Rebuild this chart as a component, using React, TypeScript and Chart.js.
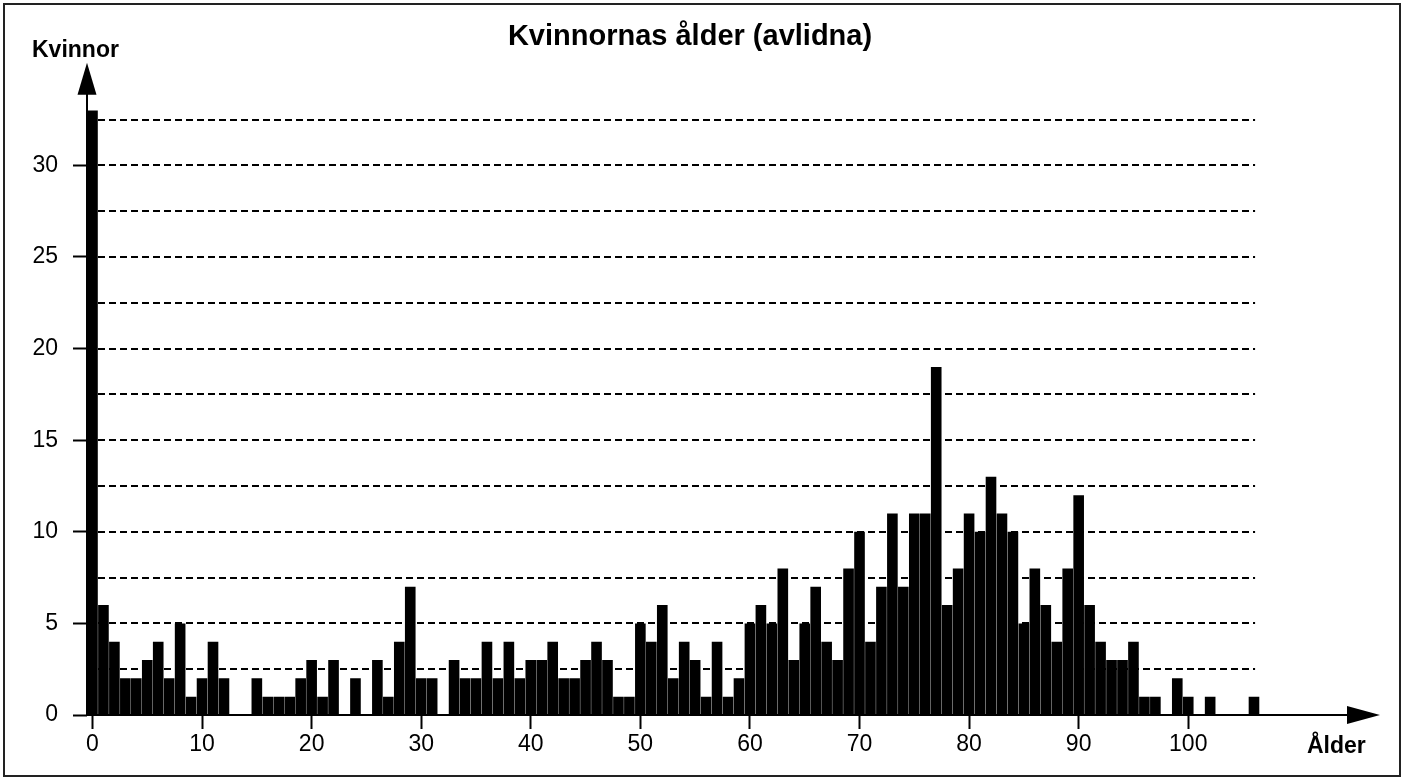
import React, { useEffect, useRef } from "react";
import { Chart, registerables } from "chart.js";

Chart.register(...registerables);

const TITLE = "Kvinnornas ålder (avlidna)";
const Y_AXIS_NAME = "Kvinnor";
const X_AXIS_NAME = "Ålder";

const AGES = [
  0, 1, 2, 3, 4, 5, 6, 7, 8, 9, 10, 11, 12, 13, 14, 15, 16, 17, 18, 19,
  20, 21, 22, 23, 24, 25, 26, 27, 28, 29, 30, 31, 32, 33, 34, 35, 36, 37, 38, 39,
  40, 41, 42, 43, 44, 45, 46, 47, 48, 49, 50, 51, 52, 53, 54, 55, 56, 57, 58, 59,
  60, 61, 62, 63, 64, 65, 66, 67, 68, 69, 70, 71, 72, 73, 74, 75, 76, 77, 78, 79,
  80, 81, 82, 83, 84, 85, 86, 87, 88, 89, 90, 91, 92, 93, 94, 95, 96, 97, 98, 99,
  100, 101, 102, 103, 104, 105, 106,
];

const COUNTS = [
  33, 6, 4, 2, 2, 3, 4, 2, 5, 1, 2, 4, 2, 0, 0, 2, 1, 1, 1, 2,
  3, 1, 3, 0, 2, 0, 3, 1, 4, 7, 2, 2, 0, 3, 2, 2, 4, 2, 4, 2,
  3, 3, 4, 2, 2, 3, 4, 3, 1, 1, 5, 4, 6, 2, 4, 3, 1, 4, 1, 2,
  5, 6, 5, 8, 3, 5, 7, 4, 3, 8, 10, 4, 7, 11, 7, 11, 11, 19, 6, 8,
  11, 10, 13, 11, 10, 5, 8, 6, 4, 8, 12, 6, 4, 3, 3, 4, 1, 1, 0, 2,
  1, 0, 1, 0, 0, 0, 1,
];

const X_TICKS = [0, 10, 20, 30, 40, 50, 60, 70, 80, 90, 100];
const Y_TICKS = [0, 5, 10, 15, 20, 25, 30];
const GRID_LINES = [2.5, 5, 7.5, 10, 12.5, 15, 17.5, 20, 22.5, 25, 27.5, 30, 32.5];

const X_MIN = -0.5;
const X_MAX = 117.5;
const Y_MAX = 35.6;
const GRID_END = 106.1;

const FONT = "'Liberation Sans', Arial, Helvetica, sans-serif";

const decorPlugin = {
  id: "decor",
  beforeDatasetsDraw(chart: any) {
    const { ctx, scales } = chart;
    const x = scales.x;
    const y = scales.y;
    ctx.save();
    ctx.strokeStyle = "#000";
    ctx.lineWidth = 2;
    ctx.setLineDash([7, 4]);
    const x0 = x.getPixelForValue(X_MIN);
    const x1 = x.getPixelForValue(GRID_END);
    GRID_LINES.forEach((v) => {
      const py = Math.round(y.getPixelForValue(v));
      ctx.beginPath();
      ctx.moveTo(x0, py);
      ctx.lineTo(x1, py);
      ctx.stroke();
    });
    ctx.restore();
  },
  afterDatasetsDraw(chart: any) {
    const { ctx, scales, chartArea } = chart;
    const x = scales.x;
    const y = scales.y;
    const ax = x.getPixelForValue(X_MIN);
    const ay = y.getPixelForValue(0);
    ctx.save();
    ctx.strokeStyle = "#000";
    ctx.fillStyle = "#000";
    ctx.lineWidth = 2;
    ctx.setLineDash([]);
    // y axis
    ctx.beginPath();
    ctx.moveTo(ax, ay + 1);
    ctx.lineTo(ax, chartArea.top + 20);
    ctx.stroke();
    ctx.beginPath();
    ctx.moveTo(ax, chartArea.top);
    ctx.lineTo(ax - 9.5, chartArea.top + 32);
    ctx.lineTo(ax + 9.5, chartArea.top + 32);
    ctx.closePath();
    ctx.fill();
    // x axis
    ctx.beginPath();
    ctx.moveTo(ax - 1, ay);
    ctx.lineTo(chartArea.right - 20, ay);
    ctx.stroke();
    ctx.beginPath();
    ctx.moveTo(chartArea.right, ay);
    ctx.lineTo(chartArea.right - 33, ay - 9);
    ctx.lineTo(chartArea.right - 33, ay + 9);
    ctx.closePath();
    ctx.fill();
    ctx.restore();
  },
  afterDraw(chart: any) {
    const { ctx } = chart;
    ctx.save();
    ctx.fillStyle = "#000";
    ctx.font = `bold 23px ${FONT}`;
    ctx.textAlign = "left";
    ctx.textBaseline = "alphabetic";
    ctx.fillText(Y_AXIS_NAME, 32, 57);
    ctx.fillText(X_AXIS_NAME, 1307, 753);
    ctx.strokeStyle = "#222";
    ctx.lineWidth = 2;
    ctx.strokeRect(4, 4, 1396, 772);
    ctx.restore();
  },
};

export default function App() {
  const ref = useRef<HTMLCanvasElement | null>(null);

  useEffect(() => {
    if (!ref.current) return;
    const chart = new Chart(ref.current, {
      type: "bar",
      data: {
        datasets: [
          {
            data: AGES.map((a, i) => ({ x: a, y: COUNTS[i] })),
            backgroundColor: "#000",
            borderWidth: 0,
            categoryPercentage: 1,
            barPercentage: 0.97,
          },
        ],
      },
      options: {
        animation: false,
        responsive: false,
        devicePixelRatio: 1,
        layout: { padding: { top: 0, left: 0, right: 22, bottom: 0 } },
        plugins: {
          legend: { display: false },
          tooltip: { enabled: false },
          title: {
            display: true,
            text: TITLE,
            color: "#000",
            font: { family: FONT, size: 29, weight: "bold" },
            padding: { top: 20, bottom: 8 },
          },
        },
        scales: {
          x: {
            type: "linear",
            min: X_MIN,
            max: X_MAX,
            offset: false,
            border: { display: false },
            grid: {
              display: true,
              offset: false,
              drawOnChartArea: false,
              drawTicks: true,
              tickLength: 14,
              tickWidth: 2,
              tickColor: "#000",
            },
            ticks: {
              color: "#000",
              font: { family: FONT, size: 23 },
              padding: 2,
              maxRotation: 0,
              autoSkip: false,
              callback: (v: any) => String(v),
            },
            afterBuildTicks: (scale: any) => {
              scale.ticks = X_TICKS.map((v) => ({ value: v }));
            },
            afterFit: (scale: any) => {
              scale.height = 66;
            },
          },
          y: {
            type: "linear",
            min: 0,
            max: Y_MAX,
            border: { display: false },
            grid: {
              display: true,
              drawOnChartArea: false,
              drawTicks: true,
              tickLength: 14,
              tickWidth: 2,
              tickColor: "#000",
            },
            ticks: {
              color: "#000",
              font: { family: FONT, size: 23 },
              padding: 15,
              callback: (v: any) => String(v),
            },
            afterBuildTicks: (scale: any) => {
              scale.ticks = Y_TICKS.map((v) => ({ value: v }));
            },
            afterFit: (scale: any) => {
              scale.width = 87;
            },
          },
        },
      } as any,
      plugins: [decorPlugin],
    });
    return () => chart.destroy();
  }, []);

  return (
    <div style={{ position: "fixed", left: 0, top: 0, width: 1402, height: 781, background: "#fff" }}>
      <canvas ref={ref} width={1402} height={781} style={{ display: "block", width: 1402, height: 781 }} />
    </div>
  );
}
